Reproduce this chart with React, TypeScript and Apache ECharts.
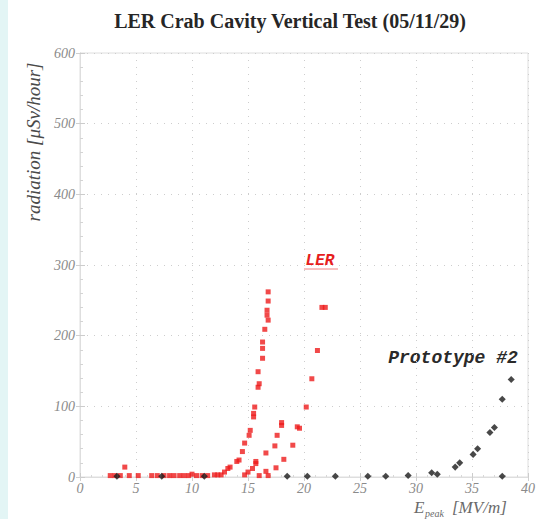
import React, { useEffect, useRef } from "react";
import * as echarts from "echarts";

// LER (red) measurements: E_peak [MV/m], radiation [μSv/hour]
const lerX = [2.7, 3.1, 3.6, 4.0, 4.4, 5.2, 6.4, 6.9, 7.5, 8.0, 8.4, 8.9, 9.3, 9.7, 10.0, 10.4, 10.9, 11.4, 12.0, 12.3, 12.6, 12.9, 13.2, 13.4, 14.0, 14.2, 14.5, 14.7, 15.1, 15.2, 15.5, 15.5, 15.6, 15.9, 16.0, 15.9, 16.3, 16.3, 16.3, 16.5, 16.8, 16.7, 16.7, 16.8, 16.8, 14.7, 15.0, 15.4, 15.7, 15.7, 16.0, 16.6, 16.6, 16.8, 17.4, 17.6, 18.0, 18.0, 17.5, 18.2, 19.0, 19.4, 19.6, 20.2, 20.7, 21.2, 21.6, 21.9];
const lerY = [2, 2, 2, 14, 2, 2, 2, 2, 2, 2, 2, 2, 2, 2, 4, 2, 2, 2, 3, 3, 3, 7, 12, 14, 22, 24, 36, 48, 59, 66, 85, 90, 99, 127, 132, 149, 168, 182, 191, 209, 222, 229, 236, 249, 262, 3, 7, 12, 19, 22, 2, 8, 34, 2, 44, 59, 73, 77, 13, 25, 45, 71, 69, 99, 139, 179, 240, 240];

// Prototype #2 (black) measurements
const protoX = [3.3, 7.3, 11.1, 18.5, 20.3, 22.8, 25.7, 27.3, 29.3, 31.4, 31.9, 33.5, 33.9, 35.1, 35.5, 36.6, 37.0, 37.7, 37.7, 38.5];
const protoY = [1, 1, 1, 1, 1, 1, 1, 1, 2, 6, 4, 14, 20, 32, 40, 63, 70, 110, 1, 138];

const xTicks = { min: 0, max: 40, interval: 5 };
const yTicks = { min: 0, max: 600, interval: 100 };

const pairs = (xs: number[], ys: number[]) => xs.map((x, i) => [x, ys[i]]);

export default function App() {
  const ref = useRef<HTMLDivElement>(null);
  useEffect(() => {
    if (!ref.current) return;
    const chart = echarts.init(ref.current, null, { renderer: "svg" });
    const labelStyle = {
      fontFamily: "Liberation Serif",
      fontStyle: "italic" as const,
      fontSize: 14,
      color: "#8a8a8a",
    };
    const gridLine = { show: true, lineStyle: { color: "#cdcdcd", type: [1, 6] as any, width: 1 } };
    chart.setOption({
      animation: false,
      backgroundColor: "#ffffff",
      grid: { left: 80, right: 20, top: 53, bottom: 42, show: true, borderColor: "#dedede", borderWidth: 1 },
      xAxis: [
        {
          type: "value",
          ...xTicks,
          axisLine: { show: true, lineStyle: { color: "#d8d8d8" } },
          axisTick: { show: true, inside: true, length: 4, lineStyle: { color: "#cccccc" } },
          minorTick: { show: true, splitNumber: 5, length: 2, lineStyle: { color: "#d8d8d8" } },
          splitLine: gridLine,
          axisLabel: { ...labelStyle, margin: 4 },
        },
        {
          type: "value",
          position: "top",
          ...xTicks,
          axisLine: { show: true, lineStyle: { color: "#dedede" } },
          axisTick: { show: true, inside: true, length: 4, lineStyle: { color: "#d0d0d0" } },
          axisLabel: { show: false },
          splitLine: { show: false },
        },
      ],
      yAxis: [
        {
          type: "value",
          ...yTicks,
          axisLine: { show: true, lineStyle: { color: "#d8d8d8" } },
          axisTick: { show: true, inside: true, length: 5, lineStyle: { color: "#cccccc" } },
          minorTick: { show: true, splitNumber: 5, length: 3, lineStyle: { color: "#d4d4d4" } },
          splitLine: gridLine,
          axisLabel: { ...labelStyle, margin: 5 },
        },
        {
          type: "value",
          position: "right",
          ...yTicks,
          axisLine: { show: true, lineStyle: { color: "#dedede" } },
          axisTick: { show: true, inside: true, length: 4, lineStyle: { color: "#d0d0d0" } },
          axisLabel: { show: false },
          splitLine: { show: false },
        },
      ],
      series: [
        {
          name: "LER",
          type: "scatter",
          data: pairs(lerX, lerY),
          symbol: "rect",
          symbolSize: 5,
          itemStyle: { color: "#ee1b1b" },
        },
        {
          name: "Prototype #2",
          type: "scatter",
          data: pairs(protoX, protoY),
          symbol: "rect",
          symbolSize: 5,
          symbolRotate: 45,
          itemStyle: { color: "#1a1a1a" },
        },
      ],
      graphic: [
        { type: "rect", left: 0, top: 0, shape: { width: 8, height: 519 }, style: { fill: "#e3f5f5" }, z: 0 },
        {
          type: "text",
          x: 290,
          y: 21,
          style: {
            text: "LER Crab Cavity Vertical Test (05/11/29)",
            fontFamily: "Liberation Serif",
            fontWeight: "bold",
            fontSize: 20,
            fill: "#262626",
            textAlign: "center",
            textVerticalAlign: "middle",
          },
        },
        {
          type: "text",
          x: 33,
          y: 142,
          rotation: Math.PI / 2,
          style: {
            text: "radiation [μSv/hour]",
            fontFamily: "Liberation Serif",
            fontStyle: "italic",
            fontSize: 19,
            fill: "#4a4a4a",
            textAlign: "center",
            textVerticalAlign: "middle",
          },
        },
        {
          type: "text",
          x: 414,
          y: 499,
          style: { text: "E", fontFamily: "Liberation Serif", fontStyle: "italic", fontSize: 17, fill: "#6a6a6a" },
        },
        {
          type: "text",
          x: 425,
          y: 508,
          style: { text: "peak", fontFamily: "Liberation Serif", fontStyle: "italic", fontSize: 10, fill: "#6a6a6a" },
        },
        {
          type: "text",
          x: 452,
          y: 499,
          style: { text: "[MV/m]", fontFamily: "Liberation Serif", fontStyle: "italic", fontSize: 17, fill: "#6a6a6a" },
        },
        {
          type: "text",
          x: 320,
          y: 261,
          style: {
            text: "LER",
            fontFamily: "Liberation Mono",
            fontWeight: "bold",
            fontStyle: "italic",
            fontSize: 16,
            fill: "#e61e1e",
            textAlign: "center",
            textVerticalAlign: "middle",
          },
        },
        {
          type: "line",
          shape: { x1: 304, y1: 269, x2: 338, y2: 269 },
          style: { stroke: "#f08080", lineWidth: 1 },
        },
        {
          type: "text",
          x: 453,
          y: 358,
          style: {
            text: "Prototype #2",
            fontFamily: "Liberation Mono",
            fontWeight: "bold",
            fontStyle: "italic",
            fontSize: 18,
            fill: "#2a2a2a",
            textAlign: "center",
            textVerticalAlign: "middle",
          },
        },
      ],
    });
    return () => chart.dispose();
  }, []);
  return <div ref={ref} style={{ position: "fixed", left: 0, top: 0, width: 548, height: 519 }} />;
}
